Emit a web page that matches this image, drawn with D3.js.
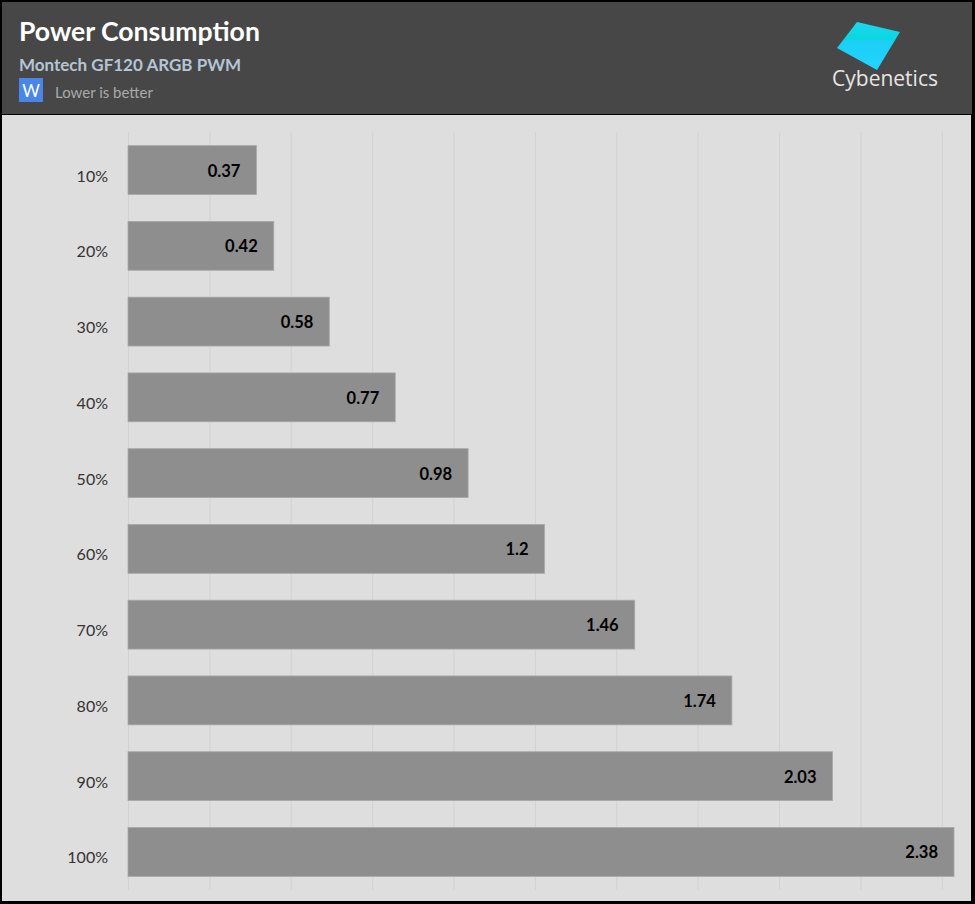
<!DOCTYPE html>
<html><head><meta charset="utf-8">
<script src="https://cdn.jsdelivr.net/npm/d3@7"></script>
<style>body{margin:0;background:#fff;}svg{display:block;font-family:Lato,"Open Sans",sans-serif;}</style>
</head><body>
<script>
const categories = ["10%","20%","30%","40%","50%","60%","70%","80%","90%","100%"];
const values = [0.37,0.42,0.58,0.77,0.98,1.2,1.46,1.74,2.03,2.38];
const gridTicks = [0,0.2345,0.469,0.7035,0.938,1.1725,1.407,1.6415,1.876,2.1105,2.345];

const W = 975, H = 904;
const svg = d3.select("body").append("svg").attr("width", W).attr("height", H);

// background + frame
svg.append("rect").attr("x",0).attr("y",0).attr("width",W).attr("height",H).attr("fill","#000");
svg.append("rect").attr("x",2).attr("y",2).attr("width",970).attr("height",112).attr("fill","#474747");
svg.append("rect").attr("x",2).attr("y",115).attr("width",969).attr("height",786).attr("fill","#dedede");

// header text
svg.append("text").attr("x",19).attr("y",41).attr("fill","#fff").attr("font-size",26.6).attr("font-weight",700).text("Power Consumption");
svg.append("text").attr("x",19).attr("y",71).attr("fill","#b5c5d5").attr("font-size",17).attr("font-weight",700).text("Montech GF120 ARGB PWM");
svg.append("rect").attr("x",19).attr("y",78).attr("width",24).attr("height",24).attr("fill","#4a86e8");
svg.append("text").attr("x",31).attr("y",97).attr("text-anchor","middle").attr("fill","#fff").attr("font-size",17).text("W");
svg.append("text").attr("x",55).attr("y",98).attr("fill","#aaaaaa").attr("font-size",15).text("Lower is better");

// logo
const defs = svg.append("defs");
const lg = defs.append("linearGradient").attr("id","lg").attr("x1",0).attr("y1",0).attr("x2",0).attr("y2",1);
lg.append("stop").attr("offset","0%").attr("stop-color","#1ad8ee");
lg.append("stop").attr("offset","35%").attr("stop-color","#0bd6e0");
lg.append("stop").attr("offset","40%").attr("stop-color","#1ccff5");
lg.append("stop").attr("offset","100%").attr("stop-color","#22d4ff");
svg.append("polygon").attr("points","837,48 857,22 900,32 877,70").attr("fill","url(#lg)");
svg.append("text").attr("x",885).attr("y",86).attr("text-anchor","middle").attr("fill","#e6e6e6").attr("font-size",21).attr("font-family","'Open Sans',sans-serif").text("Cybenetics");

// chart
const x = d3.scaleLinear().domain([0, 2.38]).range([128, 954]);
const y = d3.scaleBand().domain(categories).range([132, 890]).paddingInner(0.355).paddingOuter(0.18);

svg.append("g").selectAll("line").data(gridTicks).join("line")
  .attr("x1", d => x(d) + 0.5).attr("x2", d => x(d) + 0.5)
  .attr("y1", 132).attr("y2", 890)
  .attr("stroke", "#d2d2d2").attr("stroke-width", 1);

svg.append("g").selectAll("rect").data(values).join("rect")
  .attr("x", x(0)).attr("y", (d,i) => y(categories[i]))
  .attr("width", d => x(d) - x(0)).attr("height", y.bandwidth())
  .attr("fill", "#8e8e8e").attr("stroke","#a8a8a8").attr("stroke-width",0.8);

svg.append("g").selectAll("text").data(values).join("text")
  .attr("x", d => x(d) - 16).attr("y", (d,i) => y(categories[i]) + y.bandwidth()/2 + 6.5)
  .attr("text-anchor","end").attr("font-size",16.5).attr("font-weight",700).attr("fill","#000")
  .text(d => d);

const yAxis = svg.append("g").attr("transform","translate(108,0)")
  .call(d3.axisLeft(y).tickSize(0).tickPadding(0));
yAxis.select(".domain").remove();
yAxis.selectAll("text").attr("font-size",16).attr("fill","#333").attr("font-family","Lato,'Open Sans',sans-serif").attr("dy","0.72em");
</script>
</body></html>
